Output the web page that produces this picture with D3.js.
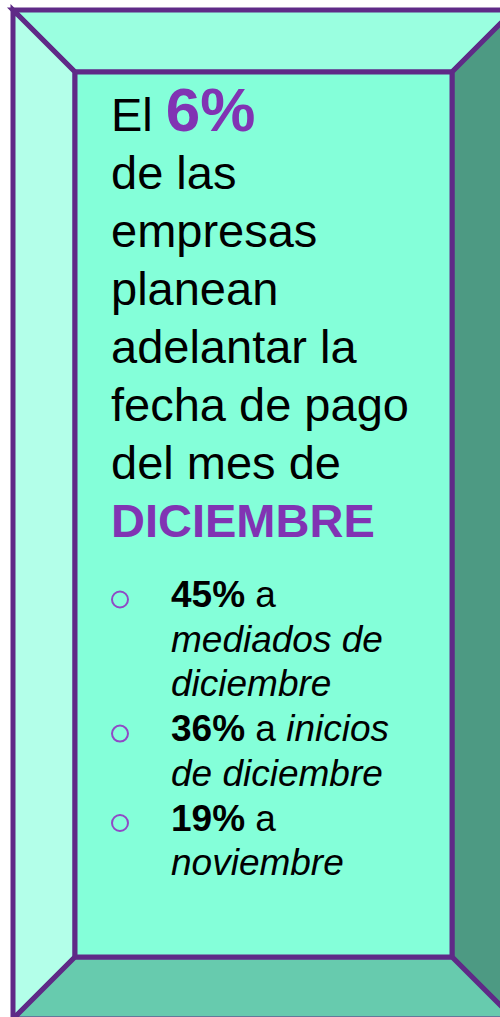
<!DOCTYPE html>
<html>
<head>
<meta charset="utf-8">
<script src="https://cdn.jsdelivr.net/npm/d3@7/dist/d3.min.js"></script>
<style>
  html, body { margin: 0; padding: 0; background: #fff; }
  svg { display: block; font-family: "Liberation Sans", Arial, sans-serif; }
</style>
</head>
<body>
<script>
// page size
var width = 500,
    height = 1017;

// headline lines, each a list of [text, style] runs
var headLines = [
  [["El ", "n"], ["6%", "big"]],
  [["de las", "n"]],
  [["empresas", "n"]],
  [["planean", "n"]],
  [["adelantar la", "n"]],
  [["fecha de pago", "n"]],
  [["del mes de", "n"]],
  [["DICIEMBRE", "hb"]]
];

// bullet items: percentage, and the lines of text after it
var bulletPct = ["45%", "36%", "19%"];
var bulletLines = [
  [[[" a", "n"]], [["mediados de", "i"]], [["diciembre", "i"]]],
  [[[" a ", "n"], ["inicios", "i"]], [["de diciembre", "i"]]],
  [[[" a", "n"]], [["noviembre", "i"]]]
];

var svg = d3.select('body')
  .append('svg')
  .attr('width', width)
  .attr('height', height);

// bevelled frame: outer box runs a bit past the page on the right and bottom
var outer = {x0: 13, y0: 10, x1: 514, y1: 1019},
    inner = {x0: 75, y0: 72, x1: 452, y1: 957};

var stroke = '#5f2a87';

var faces = [
  {fill: '#9affe0', pts: [[outer.x0, outer.y0], [outer.x1, outer.y0], [inner.x1, inner.y0], [inner.x0, inner.y0]]},
  {fill: '#b3ffe9', pts: [[outer.x0, outer.y0], [inner.x0, inner.y0], [inner.x0, inner.y1], [outer.x0, outer.y1]]},
  {fill: '#4d9a83', pts: [[outer.x1, outer.y0], [outer.x1, outer.y1], [inner.x1, inner.y1], [inner.x1, inner.y0]]},
  {fill: '#67cbae', pts: [[outer.x0, outer.y1], [inner.x0, inner.y1], [inner.x1, inner.y1], [outer.x1, outer.y1]]}
];

svg.selectAll('polygon.face')
  .data(faces)
  .enter()
  .append('polygon')
  .attr('class', 'face')
  .attr('points', function(d) { return d.pts.join(' '); })
  .attr('fill', function(d) { return d.fill; })
  .attr('stroke', stroke)
  .attr('stroke-width', 5)
  .attr('stroke-linejoin', 'miter');

svg.append('rect')
  .attr('x', inner.x0)
  .attr('y', inner.y0)
  .attr('width', inner.x1 - inner.x0)
  .attr('height', inner.y1 - inner.y0)
  .attr('fill', '#84ffd9')
  .attr('stroke', stroke)
  .attr('stroke-width', 5);

// style of each run
function styleRun(sel) {
  sel.text(function(d) { return d[0]; })
    .attr('font-weight', function(d) { return (d[1] === 'big' || d[1] === 'hb' || d[1] === 'b') ? 'bold' : 'normal'; })
    .attr('font-style', function(d) { return d[1] === 'i' ? 'italic' : 'normal'; })
    .attr('font-size', function(d) { return d[1] === 'big' ? 62 : null; })
    .attr('fill', function(d) { return (d[1] === 'big' || d[1] === 'hb') ? '#8133b3' : '#000'; });
}

// headline
var headY = d3.scaleLinear().domain([0, 1]).range([131, 189]);

svg.selectAll('text.head')
  .data(headLines)
  .enter()
  .append('text')
  .attr('class', 'head')
  .attr('x', 111)
  .attr('y', function(d, i) { return headY(i); })
  .attr('font-size', 47)
  .style('white-space', 'pre')
  .selectAll('tspan')
  .data(function(d) { return d; })
  .enter()
  .append('tspan')
  .call(styleRun);

// bullet list: flatten into rows
var rows = [];
bulletLines.forEach(function(lines, k) {
  lines.forEach(function(runs, j) {
    var r = j === 0 ? [[bulletPct[k], 'b']].concat(runs) : runs;
    rows.push({runs: r, first: j === 0});
  });
});

var rowY = d3.scaleLinear().domain([0, 1]).range([607, 651.7]);

var row = svg.selectAll('g.row')
  .data(rows)
  .enter()
  .append('g')
  .attr('class', 'row');

row.filter(function(d) { return d.first; })
  .append('circle')
  .attr('cx', 120)
  .attr('cy', function(d) { return rowY(rows.indexOf(d)) - 7.5; })
  .attr('r', 8)
  .attr('fill', 'none')
  .attr('stroke', '#9049c6')
  .attr('stroke-width', 2);

row.append('text')
  .attr('x', 171)
  .attr('y', function(d, i) { return rowY(i); })
  .attr('font-size', 37)
  .style('white-space', 'pre')
  .selectAll('tspan')
  .data(function(d) { return d.runs; })
  .enter()
  .append('tspan')
  .call(styleRun);
</script>
</body>
</html>
